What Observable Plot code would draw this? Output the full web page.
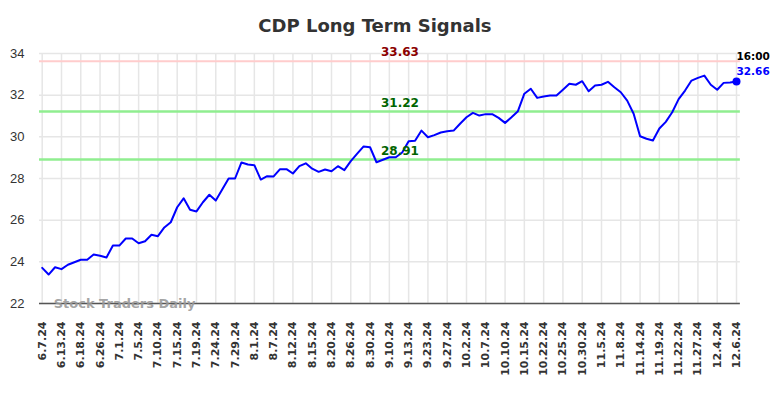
<!DOCTYPE html>
<html>
<head>
<meta charset="utf-8">
<script src="https://cdn.jsdelivr.net/npm/d3@7"></script>
<script src="https://cdn.jsdelivr.net/npm/@observablehq/plot@0.6"></script>
<style>
  html, body { margin: 0; padding: 0; background: #fff; }
  svg { display: block; }
</style>
</head>
<body>
<script>
// ---- data ----
const chartTitle = "CDP Long Term Signals";
const watermark = "Stock Traders Daily";
const lastTime = "16:00";

const prices = [
  23.71, 23.39, 23.74, 23.65, 23.86, 23.98, 24.10, 24.10, 24.35, 24.29,
  24.21, 24.78, 24.78, 25.12, 25.12, 24.89, 24.99, 25.30, 25.23, 25.65,
  25.90, 26.62, 27.05, 26.50, 26.42, 26.86, 27.22, 26.94, 27.47, 28.00,
  28.00, 28.77, 28.67, 28.64, 27.95, 28.11, 28.10, 28.45, 28.45, 28.24,
  28.59, 28.73, 28.47, 28.32, 28.43, 28.35, 28.59, 28.40, 28.83, 29.19,
  29.54, 29.50, 28.78, 28.90, 29.02, 29.02, 29.25, 29.79, 29.81, 30.30,
  29.98, 30.08, 30.21, 30.27, 30.30, 30.63, 30.94, 31.15, 31.02, 31.09,
  31.09, 30.91, 30.67, 30.94, 31.23, 32.07, 32.31, 31.87, 31.94, 31.98,
  31.98, 32.26, 32.55, 32.50, 32.67, 32.19, 32.46, 32.50, 32.64, 32.38,
  32.14, 31.74, 31.11, 30.03, 29.91, 29.82, 30.40, 30.72, 31.18, 31.81,
  32.22, 32.70, 32.83, 32.94, 32.50, 32.26, 32.59, 32.61, 32.66
];

const tickLabels = [
  "6.7.24","6.13.24","6.18.24","6.26.24","7.1.24","7.5.24","7.10.24","7.15.24",
  "7.19.24","7.24.24","7.29.24","8.1.24","8.7.24","8.12.24","8.15.24","8.20.24",
  "8.26.24","8.30.24","9.10.24","9.13.24","9.23.24","9.27.24","10.2.24","10.7.24",
  "10.10.24","10.15.24","10.22.24","10.25.24","10.30.24","11.5.24","11.8.24",
  "11.14.24","11.19.24","11.22.24","11.27.24","12.4.24","12.6.24"
];
const tickStep = 3;

const yTicks = [22, 24, 26, 28, 30, 32, 34];

const resistance = [33.63];
const support = [31.22, 28.91];

// ---- derived tables ----
const series = prices.map((v, i) => ({i, v}));
const last = series[series.length - 1];
const tickIdx = tickLabels.map((_, k) => k * tickStep);
const xLo = -0.42, xHi = series.length - 1 + 0.6;

const chart = Plot.plot({
  width: 784,
  height: 398,
  marginTop: 53,
  marginBottom: 95,
  marginLeft: 41.7,
  marginRight: 48,
  style: {fontFamily: "DejaVu Sans", background: "#fff", overflow: "visible"},
  x: {type: "linear", domain: [0, series.length - 1]},
  y: {domain: [yTicks[0], yTicks[yTicks.length - 1]]},
  marks: [
    // grid
    Plot.ruleY(yTicks, {x1: xLo, x2: xHi, stroke: "#e6e6e6", strokeWidth: 1.5}),
    Plot.ruleX(tickIdx, {y1: yTicks[0], y2: yTicks[yTicks.length - 1], stroke: "#e6e6e6", strokeWidth: 1.5}),
    // signal lines
    Plot.ruleY(resistance, {x1: xLo, x2: xHi, stroke: "#ffcccc", strokeWidth: 2}),
    Plot.ruleY(support, {x1: xLo, x2: xHi, stroke: "#90ee90", strokeWidth: 2.5}),
    // axes
    Plot.axisY(yTicks, {tickSize: 0, tickPadding: 17.7, fontSize: 13, fill: "#333", label: null,
      fontFamily: "Liberation Sans"}),
    Plot.axisX(tickIdx, {tickSize: 0, tickPadding: 18, tickRotate: -90, fontSize: 11,
      fontWeight: "bold", fill: "#333", label: null,
      tickFormat: i => tickLabels[i / tickStep]}),
    Plot.ruleY([yTicks[0]], {x1: xLo, x2: xHi, stroke: "#555", strokeWidth: 1.5}),
    // watermark
    Plot.text([watermark], {frameAnchor: "bottom-left", dx: 11.5, textAnchor: "start", lineAnchor: "middle",
      fill: "#999", fillOpacity: 0.9, fontSize: 13, fontWeight: "bold"}),
    // price line
    Plot.line(series, {x: "i", y: "v", stroke: "#0000ff", strokeWidth: 2}),
    Plot.dot([last], {x: "i", y: "v", r: 4, fill: "#0000ff"}),
    // signal labels
    Plot.text(resistance, {y: d => d, text: d => d.toFixed(2), dx: 10.6, dy: -9,
      lineAnchor: "middle", fill: "#8b0000", fontSize: 12, fontWeight: "bold"}),
    Plot.text(support, {y: d => d, text: d => d.toFixed(2), dx: 10.6, dy: -8,
      lineAnchor: "middle", fill: "#006400", fontSize: 12, fontWeight: "bold"}),
    // last value labels
    Plot.text([last], {x: "i", y: "v", text: d => d.v.toFixed(2), textAnchor: "start", dy: -10,
      lineAnchor: "middle", fill: "#0000ff", fontSize: 10.5, fontWeight: "bold"}),
    Plot.text([last], {x: "i", y: "v", text: () => lastTime, textAnchor: "start", dy: -24.6,
      lineAnchor: "middle", fill: "#000", fontSize: 10.5, fontWeight: "bold"}),
    // title
    Plot.text([chartTitle], {frameAnchor: "top", dx: -14.4, dy: -27, lineAnchor: "middle",
      fill: "#333", fontSize: 18, fontWeight: "bold"})
  ]
});
document.body.appendChild(chart);
</script>
</body>
</html>
